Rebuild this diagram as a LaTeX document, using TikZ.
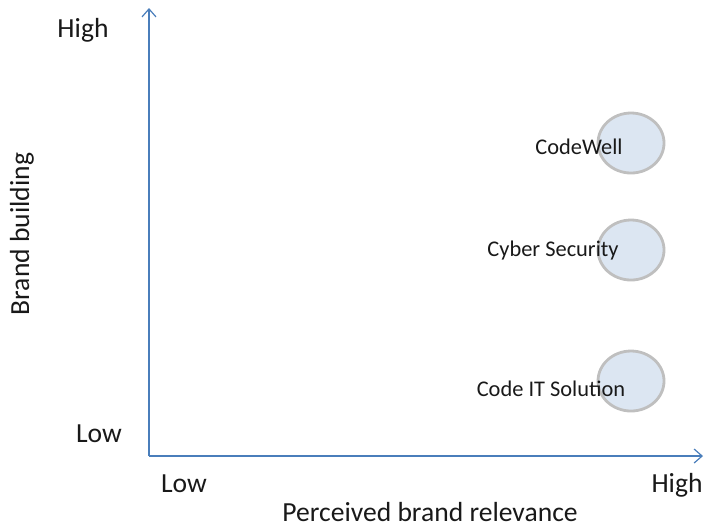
\documentclass[tikz,border=0pt]{standalone}
\usepackage{fontspec}
\setmainfont{Carlito}
\usepackage{tikz}
\usetikzlibrary{shapes,arrows.meta,positioning}
\usepackage{xcolor}
\definecolor{maxis}{HTML}{4A7EBB}
\definecolor{mfill}{HTML}{DCE6F2}
\definecolor{medge}{HTML}{BFBFBF}
\tikzstyle{l2}=[line width=0.75pt]
\tikzstyle{axis}=[l2, draw=maxis, -{Straight Barb[length=4pt,width=7pt,line width=0.6pt]}]
\tikzstyle{bubble}=[ellipse, draw=medge, fill=mfill, line width=1.4pt, minimum width=33pt, minimum height=30pt, inner sep=0pt]
\tikzstyle{big}=[font=\fontsize{13.8}{16}\selectfont, text=black!90]
\tikzstyle{small}=[font=\fontsize{11.2}{13}\selectfont, text=black!90]

\begin{document}
\begin{tikzpicture}[x=0.5pt, y=-0.5pt]
    \useasboundingbox (0,0) rectangle (704,527);
    % axes
    \coordinate (o) at (149,456);
    \coordinate (ytop) at (149,8);
    \coordinate (xend) at (703,456);
    \draw[axis] (o) -- (ytop);
    \draw[axis] (o) -- (xend);

    % axis texts
    \node[big] at (83,30) (yhigh) {High};
    \node[big] at (99,434) (ylow) {Low};
    \node[big, rotate=90] at (22,234) (ylabel) {Brand building};
    \node[big] at (184,484) (xlow) {Low};
    \node[big] at (677,485) (xhigh) {High};
    \node[big] at (430,512) (xlabel) {Perceived brand relevance};

    % brands
    \node[bubble] at (631,143) (b1) {};
    \node[bubble] at (631,250) (b2) {};
    \node[bubble] at (631,381) (b3) {};
    \node[small] at (579,147) (t1) {CodeWell};
    \node[small] at (553,251) (t2) {Cyber Security};
    \node[small] at (551,389) (t3) {Code IT Solution};
\end{tikzpicture}
\end{document}
